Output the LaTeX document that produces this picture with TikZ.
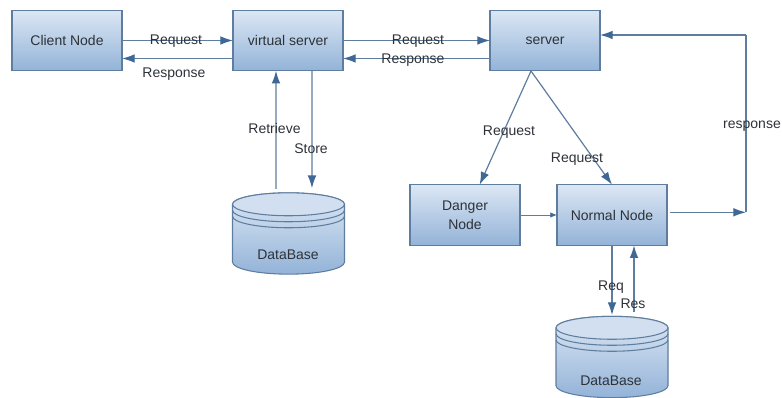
\documentclass[tikz,border=0pt]{standalone}
\usepackage{fontspec}
\setmainfont{Liberation Sans}
\usetikzlibrary{arrows.meta}
\definecolor{edgeblue}{HTML}{5F7D9E}
\definecolor{tipblue}{HTML}{3F6896}
\definecolor{topblue}{HTML}{DCE7F4}
\definecolor{lowblue}{HTML}{93B3D8}
\definecolor{inkgrey}{HTML}{2E3238}
\tikzset{
	boxnode/.style={rectangle,draw=edgeblue,line width=0.8pt,top color=topblue,bottom color=lowblue,text=inkgrey,
		minimum width=82.5pt,minimum height=45.5pt,inner sep=0pt,outer sep=0pt,align=center,font=\fontsize{10.5}{14}\selectfont},
	dbnode/.style={rectangle,minimum width=84pt,minimum height=61pt,inner sep=0pt,outer sep=0pt},
	link/.style={draw=edgeblue,line width=0.9pt,-{Latex[length=9.5pt,width=6.5pt,color=tipblue]}},
	plainlink/.style={draw=edgeblue,line width=0.9pt},
	lbl/.style={inner sep=0pt,text=inkgrey,text height=9pt,text depth=1pt,font=\fontsize{10.5}{12}\selectfont}
}
% cylinder: #1 name, #2 centre
\newcommand{\DataBase}[2]{
	\node[dbnode] (#1) at (#2) {};
	\path[draw=edgeblue,line width=0.8pt,top color=topblue,bottom color=lowblue]
		(#1.north west) ++(0,-8.6pt) -- ++(0,-43.4pt) arc[start angle=180,end angle=360,x radius=42pt,y radius=9pt]
		-- ++(0,43.4pt) arc[start angle=0,end angle=180,x radius=42pt,y radius=8.6pt] -- cycle;
	\draw[edgeblue,line width=0.8pt,fill=topblue!85!lowblue] (#1.north west) ++(0,-8.6pt) arc[start angle=180,end angle=360,x radius=42pt,y radius=8.6pt]
		arc[start angle=0,end angle=180,x radius=42pt,y radius=8.6pt];
	\draw[edgeblue,line width=0.8pt] (#1.north west) ++(0,-13.1pt) arc[start angle=180,end angle=360,x radius=42pt,y radius=8.6pt];
	\draw[edgeblue,line width=0.8pt] (#1.north west) ++(0,-17.6pt) arc[start angle=180,end angle=360,x radius=42pt,y radius=8.6pt];
}
\begin{document}
\begin{tikzpicture}[x=0.75pt,y=-0.75pt]
	\useasboundingbox (0,0) rectangle (782,398);
	\node[boxnode] (client) at (67,40.5) {Client Node};
	\node[boxnode] (vserver) at (288,40.5) {virtual server};
	\node[boxnode] (server) at (545,40.5) {server};
	\node[boxnode] (danger) at (465,215) {Danger\\Node};
	\node[boxnode] (normal) at (612,215) {Normal Node};
	\DataBase{dbleft}{288.5,233.5}
	\DataBase{dbright}{612,357}
	\coordinate (corner) at (746,212.3);
	\coordinate (top) at (746,35);
	\coordinate (split) at (531,71);
	% top row
	\draw[link] (client.east) -- (vserver.west);
	\draw[link] ([yshift=-13.5pt]vserver.west) -- ([yshift=-13.5pt]client.east);
	\draw[link] (vserver.east) -- (server.west);
	\draw[link] ([yshift=-13.5pt]server.west) -- ([yshift=-13.5pt]vserver.east);
	% first database
	\draw[link] ([xshift=-9.4pt,yshift=3pt]dbleft.north) -- ([xshift=-9pt]vserver.south);
	\draw[link] ([xshift=18pt]vserver.south) -- ([xshift=17.6pt,yshift=3.5pt]dbleft.north);
	% server fan
	\draw[link] (split) -- ([xshift=11pt]danger.north);
	\draw[link] (split) -- (normal.north);
	\draw[draw=edgeblue,line width=0.6pt,-{Latex[length=5pt,width=4pt,color=tipblue]}] (danger.east) -- (normal.west);
	% response loop
	\draw[plainlink] (top) -- (corner);
	\draw[link] ([xshift=2pt]normal.east |- corner) -- (corner);
	\draw[link] (top) -- (server.east |- top);
	% second database
	\draw[link] (normal.south) -- ([yshift=1pt]dbright.north);
	\draw[link] ([xshift=16.5pt,yshift=3pt]dbright.north) -- ([xshift=16.5pt]normal.south);
	% labels
	\node[lbl] (reqa) at (176,39.5) {Request};
	\node[lbl] (resa) at (174,72) {Response};
	\node[lbl] (reqb) at (418,39.5) {Request};
	\node[lbl] (resb) at (413,58) {Response};
	\node[lbl] (ret) at (274.5,128) {Retrieve};
	\node[lbl] (sto) at (311,148) {Store};
	\node[lbl] (reqc) at (509,130) {Request};
	\node[lbl] (reqd) at (577,157) {Request};
	\node[lbl] (rsp) at (752,123) {response};
	\node[lbl] (req) at (611,285) {Req};
	\node[lbl] (res) at (633,303) {Res};
	\node[lbl] (dba) at (288,254) {DataBase};
	\node[lbl] (dbb) at (611,380) {DataBase};
\end{tikzpicture}
\end{document}
